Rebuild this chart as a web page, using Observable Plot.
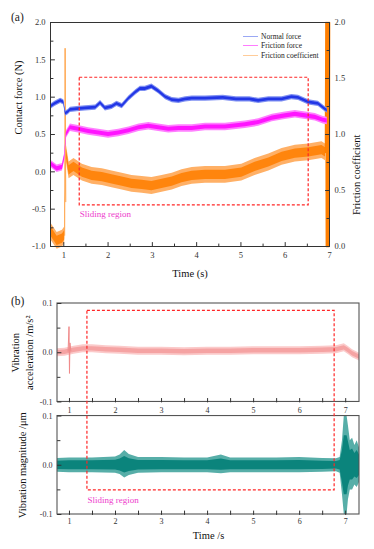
<!DOCTYPE html>
<html><head><meta charset="utf-8">
<script src="https://cdn.jsdelivr.net/npm/d3@7"></script>
<script src="https://cdn.jsdelivr.net/npm/@observablehq/plot@0.6"></script>
<style>
body{margin:0;background:#fff;}
#wrap{position:relative;width:374px;height:549px;font-family:'Liberation Serif',serif;color:#222;overflow:hidden;}
#pa{position:absolute;left:0;top:0;}
#pb{position:absolute;left:0;top:285px;}
.plab{position:absolute;font-size:11.5px;line-height:1;}
.leg{position:absolute;left:243px;font-size:7.5px;line-height:1;display:flex;align-items:center;white-space:nowrap;}
.leg span.ln{display:inline-block;width:15px;height:0;border-top:1px solid;margin-right:3px;}
</style></head><body>
<div id="wrap">
  <div id="pa"></div>
  <div id="pb"></div>
  <div class="plab" style="left:11px;top:12px">(a)</div>
  <div class="plab" style="left:11px;top:296px">(b)</div>
  <div class="leg" style="top:33px"><span class="ln" style="border-color:#9aa8f4"></span>Normal force</div>
  <div class="leg" style="top:42px"><span class="ln" style="border-color:#ff7cff"></span>Friction force</div>
  <div class="leg" style="top:52px"><span class="ln" style="border-color:#ffcc99"></span>Friction coefficient</div>
</div>
<script>
// ---------- Panel (a) data ----------
const normT = [0.7, 0.8, 0.93, 1.0, 1.04, 1.1, 1.15, 1.3, 1.49, 1.72, 1.83, 1.94, 2.09, 2.2, 2.32, 2.47, 2.62, 2.73, 2.84, 2.99, 3.14, 3.3, 3.45, 3.6, 3.75, 3.9, 4.2, 4.6, 4.9, 5.2, 5.4, 5.63, 5.93, 6.15, 6.3, 6.53, 6.75, 6.9, 6.95];
const normV = [0.87, 0.91, 0.95, 0.93, 0.78, 0.8, 0.83, 0.84, 0.85, 0.86, 0.92, 0.85, 0.87, 0.91, 0.88, 0.98, 1.06, 1.11, 1.11, 1.14, 1.08, 1.0, 0.96, 0.95, 0.97, 0.98, 0.98, 0.99, 0.97, 0.97, 0.95, 0.97, 0.97, 1.0, 0.99, 0.93, 0.91, 0.84, 0.82];
const NORM_SPREAD = 0.035;

const fricT = [0.7, 0.85, 0.97, 1.02, 1.06, 1.15, 1.33, 1.56, 1.79, 2.01, 2.24, 2.47, 2.7, 2.92, 3.14, 3.37, 3.6, 3.9, 4.2, 4.65, 5.1, 5.4, 5.71, 6.0, 6.23, 6.46, 6.68, 6.86, 6.95];
const fricV = [0.11, 0.04, 0.06, 0.2, 0.5, 0.59, 0.57, 0.54, 0.52, 0.5, 0.52, 0.55, 0.59, 0.61, 0.59, 0.57, 0.58, 0.58, 0.6, 0.6, 0.63, 0.66, 0.72, 0.75, 0.77, 0.75, 0.73, 0.69, 0.68];
const FRIC_SPREAD = 0.05;

const coefT = [0.7, 0.85, 0.97, 1.02, 1.06, 1.12, 1.23, 1.42, 1.64, 1.87, 2.09, 2.32, 2.54, 2.77, 2.99, 3.22, 3.45, 3.67, 3.9, 4.2, 4.65, 5.02, 5.32, 5.63, 5.93, 6.23, 6.53, 6.83, 6.91];
const coefV = [0.14, 0.05, 0.07, 0.1, 0.83, 0.68, 0.71, 0.66, 0.63, 0.62, 0.6, 0.58, 0.56, 0.55, 0.54, 0.56, 0.58, 0.61, 0.63, 0.64, 0.64, 0.66, 0.71, 0.75, 0.8, 0.83, 0.84, 0.86, 0.84];
const COEF_SPREAD = 0.075;
const coefSpikeT = [1.02, 1.03, 1.045];
const coefSpikeV = [0.1, 1.77, 0.4];
const coefEndT = [6.91, 6.92, 6.93, 6.94, 6.95, 6.96, 6.97, 6.98, 6.99, 7.0];
const coefEndV = [0.84, 2.0, 0.0, 2.0, 0.0, 2.0, 0.0, 2.0, 0.0, 2.0];

const forceTicks = [-1, -0.5, 0, 0.5, 1, 1.5, 2];
const forceMinor = [-0.75, -0.25, 0.25, 0.75, 1.25, 1.75];
const coefTicks = [0, 0.5, 1, 1.5, 2];
const coefMinor = [0.25, 0.75, 1.25, 1.75];
const timeTicksA = [1, 2, 3, 4, 5, 6, 7];
const timeMinorA = [1.5, 2.5, 3.5, 4.5, 5.5, 6.5];
const slideA = {x1: 1.36, x2: 6.53, y1: -0.45, y2: 1.26};

// ---------- Panel (b) data ----------
const accT = [0.74, 0.9, 1.0, 1.1, 1.3, 1.5, 1.8, 2.1, 2.5, 3.0, 3.5, 4.0, 4.5, 5.0, 5.5, 6.0, 6.5, 6.8, 6.97, 7.05, 7.15, 7.3];
const accV = [0.0, 0.001, 0.003, 0.005, 0.008, 0.008, 0.006, 0.005, 0.003, 0.003, 0.002, 0.003, 0.003, 0.004, 0.004, 0.004, 0.005, 0.006, 0.01, 0.005, -0.002, -0.009];
const ACC_SPREAD = 0.008;
const accSpikeT = [0.97, 0.99, 1.0, 1.01, 1.03];
const accSpikeV = [0.003, 0.053, -0.042, 0.02, 0.004];

const magT  = [0.74, 1.0, 1.5, 2.0, 2.1, 2.2, 2.3, 2.5, 3.0, 3.5, 4.0, 4.3, 4.5, 5.0, 5.5, 6.0, 6.5, 6.8, 6.88, 6.93, 6.97, 7.0, 7.03, 7.06, 7.1, 7.15, 7.2, 7.25, 7.3];
const magHi = [0.014, 0.015, 0.015, 0.017, 0.021, 0.03, 0.022, 0.016, 0.016, 0.015, 0.015, 0.021, 0.015, 0.015, 0.015, 0.016, 0.014, 0.013, 0.016, 0.05, 0.1, 0.1, 0.1, 0.08, 0.05, 0.055, 0.04, 0.05, 0.035];
const magLo = [-0.014, -0.015, -0.015, -0.016, -0.019, -0.026, -0.021, -0.016, -0.015, -0.015, -0.015, -0.017, -0.015, -0.015, -0.015, -0.015, -0.014, -0.013, -0.016, -0.06, -0.1, -0.1, -0.1, -0.07, -0.05, -0.05, -0.04, -0.045, -0.035];

const vibTicks = [-0.1, 0, 0.1];
const vibMinor = [-0.05, 0.05];
const timeTicksB = [1, 2, 3, 4, 5, 6, 7];
const timeMinorB = [1.5, 2.5, 3.5, 4.5, 5.5, 6.5];
const slideB = {x1: 1.39, x2: 6.76, yBottom: -0.051, yTop: 0.085};

// ---------- helpers ----------
const font = "'Liberation Serif', 'Times New Roman', serif";
const toL = c => c * 1.5 - 1;              // coefficient -> contact-force axis units
const zip = (t, v) => t.map((d, i) => ({t: d, v: v[i]}));
const RED = "#ff2626", PINKTXT = "#ee3ccc", AX = "#333";
const tickShape = {draw(ctx, l) { ctx.moveTo(0, 0); ctx.lineTo(0, -l); }};
const tk = (len) => ({rotate: 0, length: len, anchor: "start", shape: tickShape, stroke: AX, strokeWidth: 1});

const normRows = zip(normT, normV);
const fricRows = zip(fricT, fricV);
const coefRows = zip(coefT, coefV.map(toL));

// two-tone band: light noisy fringe + dense core
const band = (rows, s, light, dark, opts = {}) => [
  Plot.areaY(rows, {x: "t", y1: d => d.v - s, y2: d => d.v + s, fill: light, ...opts}),
  Plot.areaY(rows, {x: "t", y1: d => d.v - s * 0.55, y2: d => d.v + s * 0.55, fill: dark, ...opts})
];

const plotA = Plot.plot({
  width: 374, height: 285,
  marginLeft: 50, marginRight: 45, marginTop: 22, marginBottom: 39,
  x: {domain: [0.7, 7.0]},
  y: {domain: [-1, 2]},
  style: {fontFamily: font, fontSize: "8.5px", color: AX, background: "transparent"},
  marks: [
    ...band(coefRows, COEF_SPREAD * 1.5, "#ffb066", "#ff850d"),
    Plot.lineY(zip(coefSpikeT, coefSpikeV.map(toL)), {x: "t", y: "v", stroke: "#ffa64d", strokeWidth: 1}),
    Plot.lineY(zip(coefEndT, coefEndV.map(toL)), {x: "t", y: "v", stroke: "#ff7f00", strokeWidth: 1.6}),
    ...band(fricRows, FRIC_SPREAD, "#ff80ff", "#ff14ff"),
    ...band(normRows, NORM_SPREAD, "#7d8ef2", "#2236e6"),
    Plot.rect([slideA], {x1: "x1", x2: "x2", y1: "y1", y2: "y2", fill: "none", stroke: RED, strokeWidth: 1.2, strokeDasharray: "3,2"}),
    Plot.text([slideA], {x: "x1", y: "y1", text: () => "Sliding region", dy: 9, textAnchor: "start", fill: PINKTXT, fontSize: 9}),
    Plot.frame({stroke: AX, strokeWidth: 1}),
    // inward ticks
    Plot.vectorY(forceTicks, {frameAnchor: "left", ...tk(4), rotate: 90}),
    Plot.vectorY(forceMinor, {frameAnchor: "left", ...tk(2.5), rotate: 90}),
    Plot.vectorY(coefTicks.map(toL), {frameAnchor: "right", ...tk(4), rotate: -90}),
    Plot.vectorY(coefMinor.map(toL), {frameAnchor: "right", ...tk(2.5), rotate: -90}),
    Plot.vectorX(timeTicksA, {frameAnchor: "bottom", ...tk(4)}),
    Plot.vectorX(timeMinorA, {frameAnchor: "bottom", ...tk(2.5)}),
    // tick labels
    Plot.axisY({ticks: forceTicks, tickSize: 0, tickPadding: 5, tickFormat: d => d.toFixed(1), label: null}),
    Plot.axisY({anchor: "right", ticks: coefTicks.map(toL), tickSize: 0, tickPadding: 5, tickFormat: d => ((d + 1) / 1.5).toFixed(1), label: null}),
    Plot.axisX({ticks: timeTicksA, tickSize: 0, tickPadding: 5, tickFormat: d => String(d), label: null}),
    // axis titles
    Plot.text(["Contact force (N)"], {frameAnchor: "left", dx: -32, rotate: -90, fontSize: 10.5, fill: "#111"}),
    Plot.text(["Friction coefficient"], {frameAnchor: "right", dx: 27, rotate: -90, fontSize: 10.5, fill: "#111"}),
    Plot.text(["Time (s)"], {frameAnchor: "bottom", dy: 30, fontSize: 10.5, fill: "#111"})
  ]
});
document.getElementById("pa").append(plotA);

// ---------- Panel (b): two stacked panels sharing one y scale ----------
const OFF = 0.2286;  // vertical offset of the acceleration panel in the shared scale
const xDomB = [0.74, 7.3];
const accRows = zip(accT, accV.map(v => v + OFF));
const magRows = magT.map((t, i) => ({t, lo: magLo[i], hi: magHi[i]}));
const panelsB = [{y1: -0.1, y2: 0.1}, {y1: -0.1 + OFF, y2: 0.1 + OFF}];
const leftTicksB = [...vibTicks, ...vibTicks.map(d => d + OFF)];
const leftMinorB = [...vibMinor, ...vibMinor.map(d => d + OFF)];
const fmtB = d => (d > 0.11 ? d - OFF : d).toFixed(1).replace("-0.0", "0.0");
const allTimeB = [...timeTicksB, ...timeMinorB];

const plotB = Plot.plot({
  width: 374, height: 264,
  marginLeft: 57, marginRight: 15, marginTop: 18, marginBottom: 35,
  x: {domain: xDomB},
  y: {domain: [-0.1, 0.1 + OFF]},
  style: {fontFamily: font, fontSize: "8px", color: AX, background: "transparent"},
  marks: [
    ...band(accRows, ACC_SPREAD, "#fbcaca", "#f5a3a3"),
    Plot.lineY(zip(accSpikeT, accSpikeV), {x: "t", y: d => d.v + OFF, stroke: "#f08a8a", strokeWidth: 1}),
    Plot.areaY(magRows, {x: "t", y1: "lo", y2: "hi", fill: "#57aea8"}),
    Plot.areaY(magRows, {x: "t", y1: d => d.lo * 0.6, y2: d => d.hi * 0.6, fill: "#0b847c"}),
    Plot.rect(panelsB, {x1: xDomB[0], x2: xDomB[1], y1: "y1", y2: "y2", fill: "none", stroke: "#555", strokeWidth: 1.1}),
    // dashed sliding region spanning both panels
    Plot.rect([slideB], {x1: "x1", x2: "x2", y1: "yBottom", y2: d => d.yTop + OFF, fill: "none", stroke: RED, strokeWidth: 1.2, strokeDasharray: "3,2"}),
    Plot.text([slideB], {x: "x1", y: "yBottom", text: () => "Sliding region", dy: 10, textAnchor: "start", fill: PINKTXT, fontSize: 9}),
    // inward ticks
    Plot.vectorY(leftTicksB, {frameAnchor: "left", ...tk(3.5), rotate: 90}),
    Plot.vectorY(leftMinorB, {frameAnchor: "left", ...tk(2.5), rotate: 90}),
    Plot.vector(allTimeB, {x: d => d, y: -0.1, ...tk(3.5)}),
    Plot.vector(allTimeB, {x: d => d, y: -0.1 + OFF, ...tk(3.5)}),
    // tick labels
    Plot.axisY({ticks: leftTicksB, tickSize: 0, tickPadding: 5, tickFormat: fmtB, label: null}),
    Plot.axisX({ticks: timeTicksB, tickSize: 0, tickPadding: 4, tickFormat: d => String(d), label: null}),
    Plot.text(timeTicksB, {x: d => d, y: -0.1 + OFF, dy: 8, text: d => String(d), fontSize: 8, fill: AX}),
    // axis titles
    Plot.text(["Vibration"], {x: xDomB[0], y: 0.0 + OFF, dx: -42, rotate: -90, fontSize: 10.5, fill: "#111"}),
    Plot.text(["acceleration /m/s²"], {x: xDomB[0], y: 0.0 + OFF, dx: -28, rotate: -90, fontSize: 10.5, fill: "#111"}),
    Plot.text(["Vibration magnitude /μm"], {x: xDomB[0], y: 0, dx: -35, rotate: -90, fontSize: 10.5, fill: "#111"}),
    Plot.text(["Time /s"], {frameAnchor: "bottom", dy: 24, fontSize: 10.5, fill: "#111"})
  ]
});
document.getElementById("pb").append(plotB);
</script>
</body></html>
